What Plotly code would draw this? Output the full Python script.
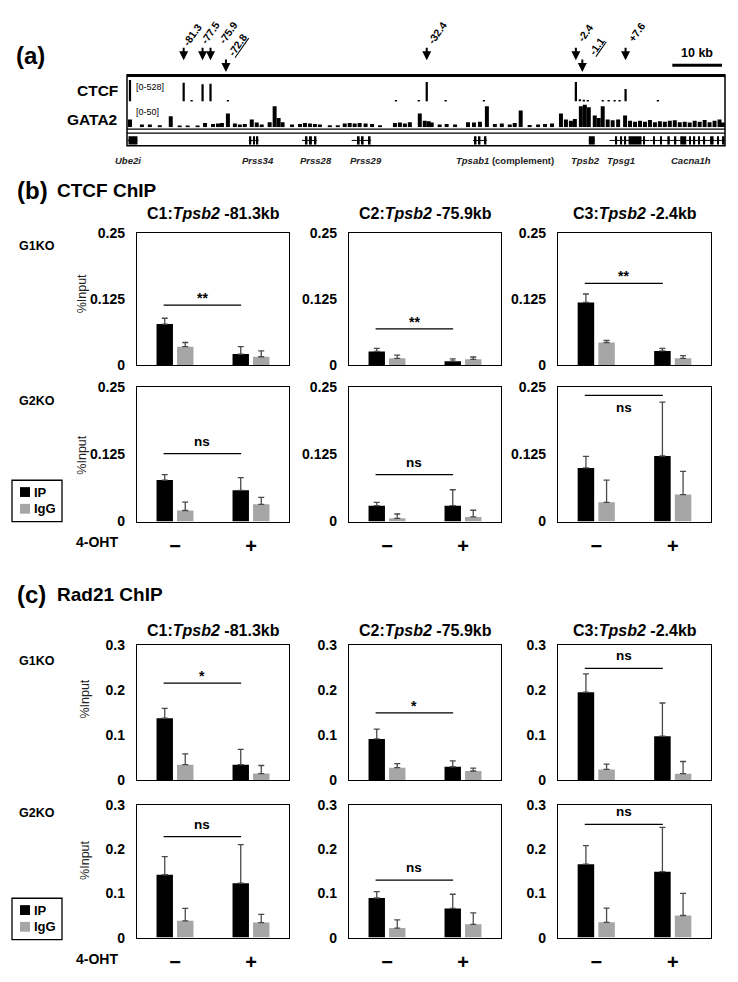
import plotly.graph_objects as go

W, H = 738, 982          # target page size
OFF = 8                  # default body margin of the written html page
WF, HF = W - OFF, H - OFF
FONT = "Liberation Sans, Arial, sans-serif"

# ---------------- panel (a) data ----------------
site_kb = [-81.3, -77.5, -75.9, -72.8, -32.4, -2.4, -1.1, 7.6]
site_text = ["-81.3", "-77.5", "-75.9", "-72.8", "-32.4", "-2.4", "-1.1", "+7.6"]
site_gata = [False, False, False, True, False, False, True, False]

ctcf_kb = [-92.1, -81.3, -79.7, -77.5, -75.9, -72.4, -38.6, -34.0, -32.4, -28.6, -20.9,
           -2.4, -1.6, -0.8, 0.0, 3.0, 4.2, 5.4, 6.4, 7.6, 14.1]
ctcf_val = [480, 420, 15, 390, 400, 20, 15, 30, 440, 15, 15,
            440, 50, 40, 30, 20, 20, 25, 25, 280, 25]

gata2_kb = [-92.1, -89.7, -88.1, -86.1, -83.9, -82.1, -80.5, -78.5, -77.0, -75.4, -74.4, -73.6,
            -72.4, -71.0, -70.0, -69.0, -67.6, -66.6, -65.6, -64.0, -63.0, -62.2, -61.4, -59.5,
            -57.9, -56.9, -55.9, -54.9, -53.9, -51.9, -50.3, -48.9, -47.9, -46.9, -45.9, -44.7,
            -43.4, -41.8, -38.8, -37.8, -36.8, -35.8, -33.8, -32.8, -32.0, -31.4, -29.8, -28.4,
            -26.7, -24.1, -22.9, -21.7, -20.3, -18.7, -17.3, -15.7, -14.7, -13.5, -11.7, -10.0,
            -8.6, -7.2, -5.4, -4.4, -3.4, -2.6, -1.4, -0.6, 0.2, 1.4, 2.2, 3.0,
            4.0, 5.0, 6.1, 7.5, 8.5, 9.5, 10.5, 11.5, 12.5, 13.5, 14.5, 15.5,
            16.5, 17.5, 18.5, 19.5, 20.5, 21.5, 22.5, 23.5, 24.5, 25.5, 26.5, 27.2]
gata2_val = [17, 6, 6, 4, 24, 3, 3, 3, 9, 7, 8, 9,
             30, 8, 6, 7, 17, 10, 6, 11, 46, 20, 11, 6,
             7, 9, 8, 7, 6, 4, 4, 8, 9, 8, 9, 8,
             7, 4, 9, 10, 8, 11, 30, 14, 13, 10, 6, 7,
             6, 11, 10, 12, 46, 7, 8, 6, 9, 37, 5, 6,
             7, 8, 30, 17, 14, 18, 46, 50, 44, 26, 20, 46,
             17, 15, 17, 26, 14, 12, 14, 12, 16, 11, 13, 12,
             14, 15, 11, 12, 10, 14, 12, 16, 11, 14, 17, 10]

gene_names = ["<i>Ube2i</i>", "<i>Prss34</i>", "<i>Prss28</i>", "<i>Prss29</i>",
              "<i>Tpsab1</i> (complement)", "<i>Tpsb2</i>", "<i>Tpsg1</i>", "<i>Cacna1h</i>"]
gene_start = [-92.6, -68.2, -57.5, -47.5, -23.1, 0.2, 4.4, 12.5]
gene_end = [-90.6, -66.2, -54.5, -43.6, -20.3, 1.4, 12.4, 27.6]
exon_start = [-92.4, -68.0, -67.3, -66.6, -56.9, -55.9, -54.9, -46.3, -45.5, -44.1,
              -22.8, -22.0, -20.8, 0.2, 5.6, 6.6, 7.4, 8.2, 11.2,
              13.2, 14.6, 16.0, 17.5, 18.6, 20.4, 21.3, 22.2, 23.3, 24.6, 26.0, 27.0]
exon_end = [-90.6, -67.7, -67.0, -66.3, -56.4, -55.5, -54.6, -45.9, -45.1, -43.7,
            -22.4, -21.6, -20.4, 1.4, 5.9, 6.9, 7.7, 10.8, 11.5,
            13.5, 14.9, 16.5, 17.8, 19.8, 20.7, 21.6, 22.5, 23.6, 25.3, 26.4, 27.5]
scale_bar_kb = 10

# ---------------- bar chart data ----------------
conditions = ["\u2212", "+"]
site_titles = ["C1:<i>Tpsb2</i> -81.3kb", "C2:<i>Tpsb2</i> -75.9kb", "C3:<i>Tpsb2</i> -2.4kb"]
row_names = ["G1KO", "G2KO"]

# CTCF ChIP: per site [-, +]
ctcf_g1_ip = [[0.078, 0.021], [0.026, 0.0075], [0.119, 0.027]]
ctcf_g1_ip_err = [[0.011, 0.014], [0.006, 0.0045], [0.016, 0.005]]
ctcf_g1_igg = [[0.035, 0.016], [0.013, 0.011], [0.043, 0.013]]
ctcf_g1_igg_err = [[0.008, 0.011], [0.006, 0.0045], [0.004, 0.005]]
ctcf_g1_sig = [0.114, 0.069, 0.155]
ctcf_g1_lab = ["**", "**", "**"]

ctcf_g2_ip = [[0.077, 0.058], [0.0295, 0.0295], [0.0996, 0.1216]]
ctcf_g2_ip_err = [[0.010, 0.0235], [0.006, 0.0295], [0.0214, 0.100]]
ctcf_g2_igg = [[0.0205, 0.032], [0.006, 0.0086], [0.0357, 0.050]]
ctcf_g2_igg_err = [[0.0155, 0.013], [0.008, 0.0124], [0.041, 0.043]]
ctcf_g2_sig = [0.126, 0.087, 0.234]
ctcf_g2_lab = ["ns", "ns", "ns"]

# Rad21 ChIP
rad_g1_ip = [[0.138, 0.0346], [0.092, 0.030], [0.196, 0.098]]
rad_g1_ip_err = [[0.022, 0.034], [0.022, 0.013], [0.041, 0.074]]
rad_g1_igg = [[0.0346, 0.0148], [0.028, 0.0206], [0.024, 0.0147]]
rad_g1_igg_err = [[0.024, 0.018], [0.009, 0.0064], [0.012, 0.027]]
rad_g1_sig = [0.216, 0.150, 0.249]
rad_g1_lab = ["*", "*", "ns"]

rad_g2_ip = [[0.142, 0.123], [0.0895, 0.066], [0.166, 0.149]]
rad_g2_ip_err = [[0.041, 0.087], [0.0145, 0.032], [0.042, 0.100]]
rad_g2_igg = [[0.038, 0.034], [0.0215, 0.030], [0.0346, 0.050]]
rad_g2_igg_err = [[0.028, 0.0185], [0.0185, 0.026], [0.032, 0.050]]
rad_g2_sig = [0.228, 0.130, 0.256]
rad_g2_lab = ["ns", "ns", "ns"]

ctcf_ticks = [0, 0.125, 0.25]
ctcf_ticktext = ["0", "0.125", "0.25"]
rad_ticks = [0, 0.1, 0.2, 0.3]
rad_ticktext = ["0", "0.1", "0.2", "0.3"]

# ---------------- helpers (page pixel -> paper) ----------------
def px(x):
    return (x - OFF) / WF

def py(y):
    return 1 - (y - OFF) / HF

fig = go.Figure()
shapes, anns = [], []
axes = {}

def text(x, y, s, size=13, xanchor="center", angle=0, bold=True, color="black", yanchor="middle"):
    anns.append(dict(x=px(x), y=py(y), xref="paper", yref="paper", text=s, showarrow=False,
                     xanchor=xanchor, yanchor=yanchor, textangle=angle,
                     font=dict(size=size, color=color, family=FONT,
                               weight="bold" if bold else "normal")))

# ---------------- panel (a) ----------------
fig.add_trace(go.Bar(x=ctcf_kb, y=ctcf_val, width=0.45,
                     marker=dict(color="black", line=dict(width=0)), xaxis="x", yaxis="y"))
fig.add_trace(go.Bar(x=gata2_kb, y=gata2_val, width=0.8,
                     marker=dict(color="black", line=dict(width=0)), xaxis="x", yaxis="y2"))
body_x, body_y = [], []
for s, e in zip(gene_start, gene_end):
    body_x += [s, e, None]
    body_y += [0.5, 0.5, None]
fig.add_trace(go.Scatter(x=body_x, y=body_y, mode="lines", line=dict(color="black", width=1),
                         xaxis="x", yaxis="y3"))
fig.add_trace(go.Bar(y=[0.5] * len(exon_start), x=[e - s for s, e in zip(exon_start, exon_end)],
                     base=exon_start, orientation="h", width=0.95,
                     marker=dict(color="black", line=dict(width=0)), xaxis="x", yaxis="y3"))

axes["xaxis"] = dict(domain=[px(127), px(725)], range=[-92.7, 27.6], visible=False, anchor="y")
axes["yaxis"] = dict(domain=[py(95), py(71)], range=[0, 528], visible=False, anchor="x")
axes["yaxis2"] = dict(domain=[py(121), py(98)], range=[0, 50], visible=False, anchor="x")
axes["yaxis3"] = dict(domain=[py(139), py(130)], range=[0, 1], visible=False, anchor="x")

shapes.append(dict(type="rect", xref="paper", yref="paper", x0=px(127), x1=px(725),
                   y0=py(140), y1=py(68), line=dict(color="black", width=1.5)))
shapes.append(dict(type="line", xref="paper", yref="paper", x0=px(127), x1=px(725),
                   y0=py(68.5), y1=py(68.5), line=dict(color="black", width=3)))
for yy in (123, 127):
    shapes.append(dict(type="line", xref="paper", yref="paper", x0=px(127), x1=px(725),
                       y0=py(yy), y1=py(yy), line=dict(color="black", width=1.2)))
shapes.append(dict(type="line", xref="x", yref="paper", x0=27.0 - scale_bar_kb, x1=27.0,
                   y0=py(58), y1=py(58), line=dict(color="black", width=3)))
text(697, 46, "10 kb", size=12.5)

label_dx = [8, 7, 17, 11, 10, 9, 14, 11]
label_cy = [27, 25, 25, 37, 25, 25, 38, 24]
for kb, lab, low, dx, cy in zip(site_kb, site_text, site_gata, label_dx, label_cy):
    head = 65 if low else 53
    anns.append(dict(x=kb, y=py(head), xref="x", yref="paper", text="", showarrow=True,
                     ax=0, ay=-14, arrowhead=2, arrowwidth=2, arrowsize=0.9, arrowcolor="black"))
    anns.append(dict(x=kb, y=py(cy), xref="x", yref="paper", xshift=dx,
                     xanchor="center", yanchor="middle",
                     text=("<u>%s</u>" % lab) if low else lab, showarrow=False, textangle=-55,
                     font=dict(size=10.5, family=FONT, weight="bold", color="black")))

text(97, 84, "CTCF", size=15.5)
text(92, 113, "GATA2", size=15.5)
text(134, 80, "[0-528]", size=9, xanchor="left", bold=False)
text(134, 106, "[0-50]", size=9, xanchor="left", bold=False)

gene_dx = [-4, 4, 7, 5, 25, -6, -9, 4]
for name, s, e, dx in zip(gene_names, gene_start, gene_end, gene_dx):
    anns.append(dict(x=(s + e) / 2, y=py(155), xref="x", yref="paper", xshift=dx, text=name,
                     showarrow=False, xanchor="center", yanchor="middle",
                     font=dict(size=9.5, family=FONT, weight="bold", color="#222")))

text(30, 48, "(a)", size=24)

# ---------------- bar panels ----------------
row_y = [(229, 363), (385, 522), (648, 785), (810, 945)]
col_x = [(137, 289), (349, 501), (558, 711)]
sig_side = [["above"] * 3, ["above", "above", "below"], ["above"] * 3, ["above"] * 3]

sections = [
    dict(rows=[(ctcf_g1_ip, ctcf_g1_ip_err, ctcf_g1_igg, ctcf_g1_igg_err, ctcf_g1_sig, ctcf_g1_lab),
               (ctcf_g2_ip, ctcf_g2_ip_err, ctcf_g2_igg, ctcf_g2_igg_err, ctcf_g2_sig, ctcf_g2_lab)],
         ymax=0.25, ticks=ctcf_ticks, ticktext=ctcf_ticktext),
    dict(rows=[(rad_g1_ip, rad_g1_ip_err, rad_g1_igg, rad_g1_igg_err, rad_g1_sig, rad_g1_lab),
               (rad_g2_ip, rad_g2_ip_err, rad_g2_igg, rad_g2_igg_err, rad_g2_sig, rad_g2_lab)],
         ymax=0.3, ticks=rad_ticks, ticktext=rad_ticktext),
]

n = 2
for si, sec in enumerate(sections):
    for ri, (ip, ip_e, igg, igg_e, sig, lab) in enumerate(sec["rows"]):
        ry0, ry1 = row_y[si * 2 + ri]
        for c in range(3):
            xa, ya = "x%d" % n, "y%d" % (n + 2)
            fig.add_trace(go.Bar(x=conditions, y=ip[c], name="IP", marker=dict(color="black", line=dict(width=0)),
                                 error_y=dict(type="data", symmetric=False, array=ip_e[c], arrayminus=[0, 0],
                                              color="#4a4a4a", thickness=1.3, width=3),
                                 xaxis=xa, yaxis=ya))
            fig.add_trace(go.Bar(x=conditions, y=igg[c], name="IgG", marker=dict(color="#a6a6a6", line=dict(width=0)),
                                 error_y=dict(type="data", symmetric=False, array=igg_e[c], arrayminus=[0, 0],
                                              color="#4a4a4a", thickness=1.3, width=3),
                                 xaxis=xa, yaxis=ya))
            cx0, cx1 = col_x[c]
            axes["xaxis%d" % n] = dict(domain=[px(cx0), px(cx1)], anchor=ya, type="category",
                                       showline=True, mirror=True, linecolor="black", linewidth=1.3,
                                       showgrid=False, ticks="", showticklabels=(ri == 1),
                                       ticklabelstandoff=6,
                                       tickfont=dict(size=20, family=FONT, weight="bold", color="black"))
            axes["yaxis%d" % (n + 2)] = dict(domain=[py(ry1), py(ry0)], anchor=xa, range=[0, sec["ymax"]],
                                             tickvals=sec["ticks"], ticktext=sec["ticktext"],
                                             showline=True, mirror=True, linecolor="black", linewidth=1.3,
                                             showgrid=False, zeroline=False, ticks="", ticklabelstandoff=8,
                                             tickfont=dict(size=14, family=FONT, weight="bold", color="black"))
            shapes.append(dict(type="line", xref=xa, yref=ya, x0=-0.15, x1=0.87, y0=sig[c], y1=sig[c],
                               line=dict(color="black", width=1.3)))
            below = sig_side[si * 2 + ri][c] == "below"
            star = lab[c].startswith("*")
            anns.append(dict(x=0.36, y=sig[c], xref=xa, yref=ya, text=lab[c], showarrow=False,
                             xanchor="center", yanchor="top" if below else "bottom",
                             yshift=-3 if below else (-3 if star else 3),
                             font=dict(size=14 if star else 13.5, family=FONT, weight="bold", color="black")))
            n += 1

# section headings
text(15, 185, "(b)", size=24, xanchor="left")
text(55, 185, "CTCF ChIP", size=19, xanchor="left")
text(15, 596, "(c)", size=24, xanchor="left")
text(55, 596, "Rad21 ChIP", size=19, xanchor="left")

for ty in (209, 633):
    for c in range(3):
        text((col_x[c][0] + col_x[c][1]) / 2, ty, site_titles[c], size=16)

row_label_y = [242, 399, 664, 818]
for i, yy in enumerate(row_label_y):
    text(17, yy, row_names[i % 2], size=12.5, xanchor="left")

for (xx, yy) in [(82, 291), (82, 455), (85, 703), (85, 867)]:
    text(xx, yy, "%Input", size=12.5, angle=-90, bold=False, color="#222")

# legends
for top, ohty in [(480, 543), (905, 967)]:
    shapes.append(dict(type="rect", xref="paper", yref="paper", x0=px(12), x1=px(62),
                       y0=py(top + 42), y1=py(top), line=dict(color="black", width=1.3)))
    shapes.append(dict(type="rect", xref="paper", yref="paper", x0=px(20), x1=px(30),
                       y0=py(top + 17), y1=py(top + 7), line=dict(width=0), fillcolor="black"))
    shapes.append(dict(type="rect", xref="paper", yref="paper", x0=px(20), x1=px(30),
                       y0=py(top + 34), y1=py(top + 24), line=dict(width=0), fillcolor="#a6a6a6"))
    text(32, top + 12, "IP", size=13, xanchor="left")
    text(32, top + 29, "IgG", size=13, xanchor="left")
    text(97, ohty, "4-OHT", size=14)

fig.update_layout(width=WF, height=HF, margin=dict(l=0, r=0, t=0, b=0),
                  plot_bgcolor="white", paper_bgcolor="white", showlegend=False,
                  barmode="group", bargap=0.46, bargroupgap=0.2,
                  font=dict(family=FONT, color="black"),
                  shapes=shapes, annotations=anns, **axes)

fig.write_html("out.html")
